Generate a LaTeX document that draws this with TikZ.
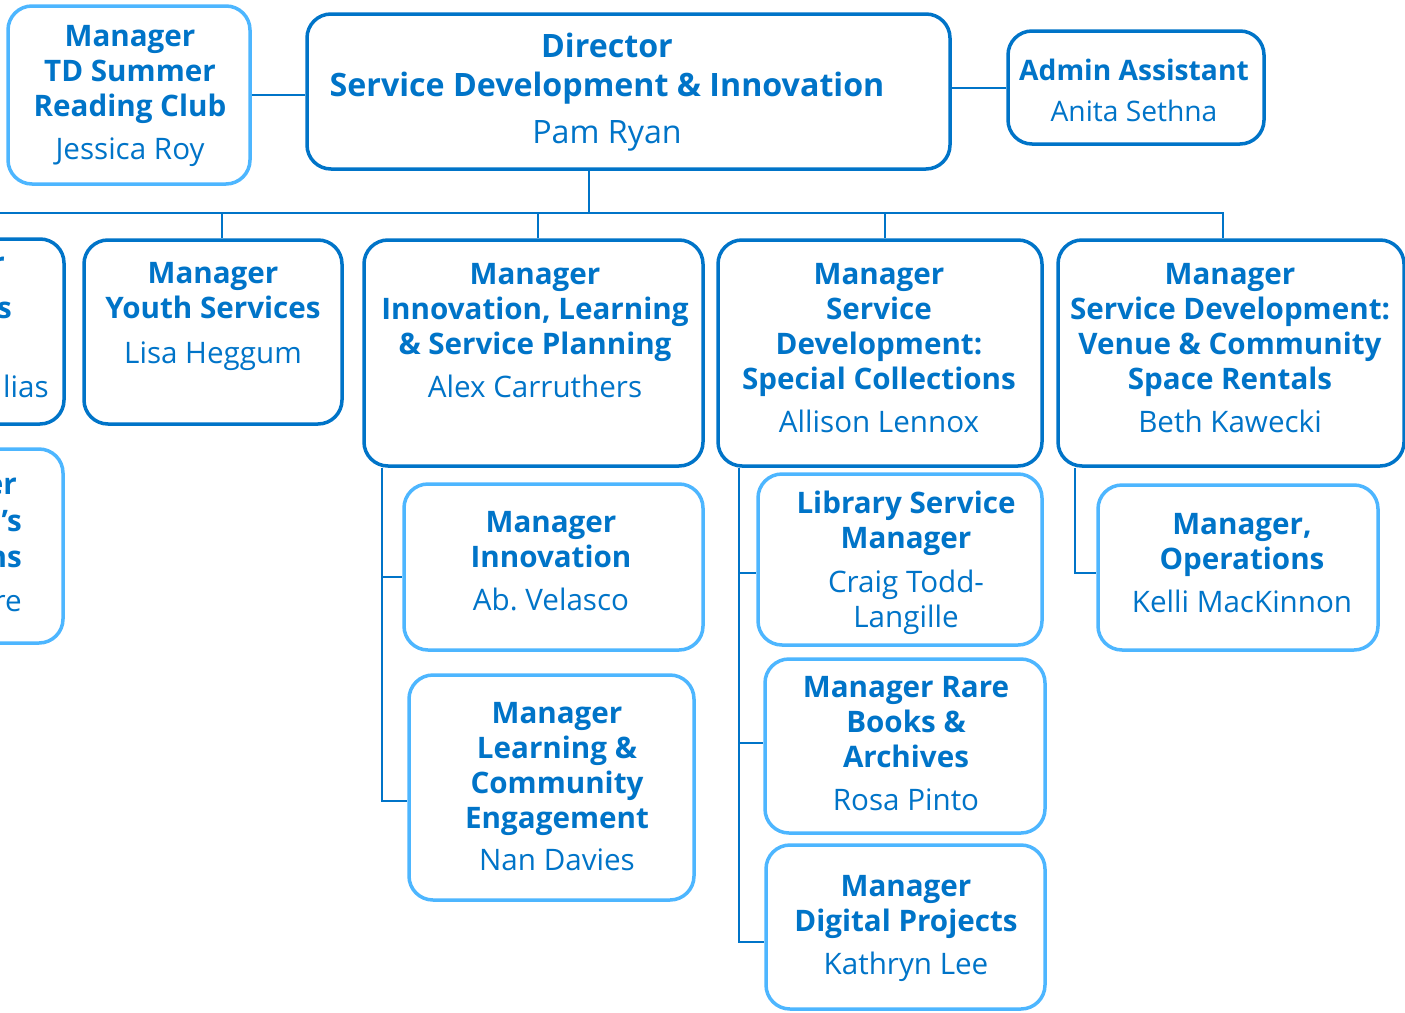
\documentclass[tikz,border=0pt]{standalone}
\usepackage{fontspec}
\setmainfont{Open Sans}
\frenchspacing
\definecolor{dk}{HTML}{0074C8}
\definecolor{lt}{HTML}{4DB6FF}
\begin{document}
\begin{tikzpicture}[x=1pt,y=-1pt,
  box/.style={draw, rounded corners=24pt, line width=3.5pt, inner sep=0pt, fill=white},
  dkbox/.style={box, draw=dk},
  ltbox/.style={box, draw=lt},
  txt/.style={text=dk, align=center, anchor=base, inner sep=0pt, font=\fontsize{29.6}{35}\selectfont},
  admtxt/.style={txt, font=\fontsize{28.2}{35}\selectfont},
  bigtxt/.style={txt, font=\fontsize{32.2}{39}\selectfont},
  conn/.style={draw=dk, line width=2pt}]
\useasboundingbox[fill=white] (0,0) rectangle (1405,1012);

\coordinate (bus) at (589,213);
\coordinate (busL) at (-63,213);

% boxes
\node[ltbox, minimum width=242pt, minimum height=178pt] (td) at (129,95) {};
\node[dkbox, minimum width=643pt, minimum height=155pt] (dir) at (628.5,91.5) {};
\node[dkbox, minimum width=256pt, minimum height=113pt] (adm) at (1136,87.5) {};
\node[dkbox, minimum width=254pt, minimum height=185pt] (l1) at (-63,331.5) {};
\node[ltbox, minimum width=253pt, minimum height=194pt] (l2) at (-63.5,546) {};
\node[dkbox, minimum width=258pt, minimum height=184pt] (youth) at (213,332) {};
\node[dkbox, minimum width=339pt, minimum height=226pt] (ilsp) at (533.5,353) {};
\node[dkbox, minimum width=324pt, minimum height=226pt] (sdsc) at (880,353) {};
\node[dkbox, minimum width=346pt, minimum height=226pt] (venue) at (1231,353) {};
\node[ltbox, minimum width=299pt, minimum height=166pt] (innov) at (553.5,567) {};
\node[ltbox, minimum width=285pt, minimum height=225pt] (lce) at (551.5,787.5) {};
\node[ltbox, minimum width=284pt, minimum height=171pt] (lsm) at (900,559.5) {};
\node[ltbox, minimum width=280pt, minimum height=174pt] (rare) at (905,746) {};
\node[ltbox, minimum width=279pt, minimum height=164pt] (dig) at (905.5,927) {};
\node[ltbox, minimum width=280pt, minimum height=165pt] (ops) at (1238,567.5) {};

% connector coordinates
\coordinate (cy) at ([shift={(9,0)}]youth.north);
\coordinate (ci) at ([shift={(4.5,0)}]ilsp.north);
\coordinate (cs) at ([shift={(5,0)}]sdsc.north);
\coordinate (cv) at ([shift={(-8,0)}]venue.north);
\coordinate (s1) at ([shift={(20,0)}]ilsp.south west);
\coordinate (s2) at ([shift={(23,0)}]sdsc.south west);
\coordinate (s3) at ([shift={(19,0)}]venue.south west);

\draw[conn] (td.east) -- (td.east -| dir.west);
\draw[conn] (adm.west) -- (adm.west -| dir.east);
\draw[conn] (bus |- dir.south) -- (bus);
\draw[conn] (busL) -- (cv |- bus) -- (cv);
\draw[conn] (l1.north) -- (busL);
\draw[conn] (cy |- bus) -- (cy);
\draw[conn] (ci |- bus) -- (ci);
\draw[conn] (cs |- bus) -- (cs);
\draw[conn] (s1) |- ([shift={(0,10)}]innov.west);
\draw[conn] (s1) |- ([shift={(0,13)}]lce.west);
\draw[conn] (s2) |- ([shift={(0,13.5)}]lsm.west);
\draw[conn] (s2) |- ([shift={(0,-3)}]rare.west);
\draw[conn] (s2) |- ([shift={(0,15)}]dig.west);
\draw[conn] (s3) |- ([shift={(0,5.5)}]ops.west);

% texts (anchor = baseline of last line)
\node[txt] (t-td) at (130,159) {\textbf{Manager}\\\textbf{TD Summer}\\\textbf{Reading Club}\\[8pt]Jessica Roy};
\node[bigtxt] (t-dir) at (607,143) {\textbf{Director}\\\textbf{Service Development \& Innovation}\\[8pt]Pam Ryan};
\node[admtxt] (t-adm) at (1134,121) {\textbf{Admin Assistant}\\[6pt]Anita Sethna};
\node[txt] (t-youth) at (213,363) {\textbf{Manager}\\\textbf{Youth Services}\\[10pt]Lisa Heggum};
\node[txt] (t-ilsp) at (535,397) {\textbf{Manager}\\\textbf{Innovation, Learning}\\\textbf{\& Service Planning}\\[8pt]Alex Carruthers};
\node[txt] (t-sdsc) at (879,432) {\textbf{Manager}\\\textbf{Service}\\\textbf{Development:}\\\textbf{Special Collections}\\[8pt]Allison Lennox};
\node[txt] (t-venue) at (1230,432) {\textbf{Manager}\\\textbf{Service Development:}\\\textbf{Venue \& Community}\\\textbf{Space Rentals}\\[8pt]Beth Kawecki};
\node[txt] (t-innov) at (551,610) {\textbf{Manager}\\\textbf{Innovation}\\[8pt]Ab.\ Velasco};
\node[txt] (t-lce) at (557,870) {\textbf{Manager}\\\textbf{Learning \&}\\\textbf{Community}\\\textbf{Engagement}\\[7pt]Nan Davies};
\node[txt] (t-lsm) at (906,627) {\textbf{Library Service}\\\textbf{Manager}\\[9pt]Craig Todd-\\Langille};
\node[txt] (t-rare) at (906,810) {\textbf{Manager Rare}\\\textbf{Books \&}\\\textbf{Archives}\\[8pt]Rosa Pinto};
\node[txt] (t-dig) at (906,974) {\textbf{Manager}\\\textbf{Digital Projects}\\[8pt]Kathryn Lee};
\node[txt] (t-ops) at (1242,612) {\textbf{Manager,}\\\textbf{Operations}\\[8pt]Kelli MacKinnon};

% cut-off fragments at left edge
\node[txt, anchor=base east] (f1) at (5,273) {\textbf{r}};
\node[txt, anchor=base east] (f2) at (12,318) {\textbf{s}};
\node[txt, anchor=base east] (f3) at (49,397) {lias};
\node[txt, anchor=base east] (f4) at (17,494) {\textbf{er}};
\node[txt, anchor=base east] (f5) at (22,531) {\textbf{’s}};
\node[txt, anchor=base east] (f6) at (22,567) {\textbf{ns}};
\node[txt, anchor=base east] (f7) at (22,611) {re};
\end{tikzpicture}
\end{document}
